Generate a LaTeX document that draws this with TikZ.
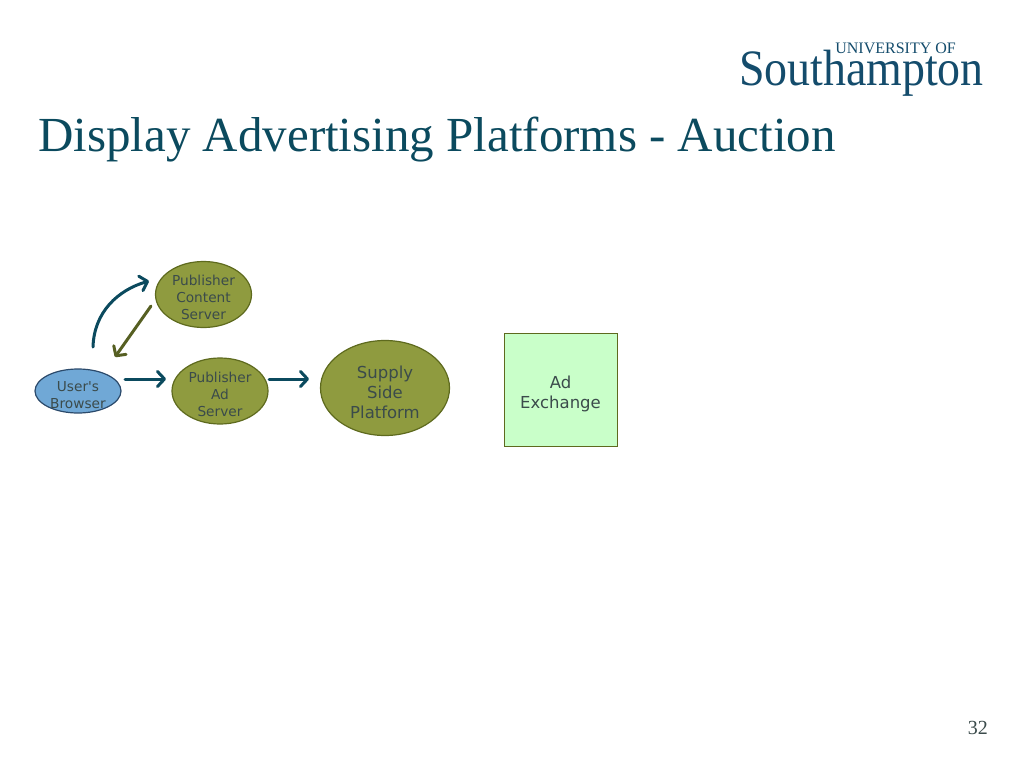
\documentclass[tikz,border=0pt]{standalone}
\usepackage{fontspec}
\setmainfont{Liberation Serif}
\newfontfamily\labelfont{DejaVu Sans}
\newfontfamily\logofont[FakeStretch=0.9]{Liberation Serif}
\usetikzlibrary{shapes.geometric,arrows.meta}
\definecolor{sotonTeal}{HTML}{0B4A5E}
\definecolor{logoBlue}{HTML}{144C6C}
\definecolor{serverOlive}{HTML}{8F9B3F}
\definecolor{serverEdge}{HTML}{5E6A1E}
\definecolor{replyOlive}{HTML}{565F22}
\definecolor{browserBlue}{HTML}{70A8D6}
\definecolor{browserEdge}{HTML}{2B4A6B}
\definecolor{exchangeGreen}{HTML}{C9FFC9}
\definecolor{labelGrey}{HTML}{3B4B4B}
\newcommand{\droptext}[1]{\rule{0pt}{#1}}
\tikzset{
  x=1pt,y=-1pt,
  server/.style={ellipse,draw=serverEdge,fill=serverOlive,line width=1.2pt,inner sep=-12pt,
    align=center,text=labelGrey},
  smalltext/.style={font=\labelfont\fontsize{13.7}{17}\selectfont},
  bigtext/.style={font=\labelfont\fontsize{16.5}{20}\selectfont},
  flow/.style={line width=3pt,line cap=round,color=sotonTeal,
    -{Straight Barb[length=7pt,width=15pt,line width=3pt,round]}},
}
\begin{document}
\begin{tikzpicture}
\useasboundingbox (0,0) rectangle (1024,768);
% slide furniture
\node (title) [anchor=base west,inner sep=0pt,text=sotonTeal,font=\fontsize{49}{52}\selectfont] at (38,151)
  {Display Advertising Platforms - Auction};
\node (logotop) [anchor=base east,inner sep=0pt,text=logoBlue,font=\fontsize{16}{17}\selectfont] at (956,53)
  {UNIVERSITY OF};
\node (logo) [anchor=base east,inner sep=0pt,text=logoBlue,font=\logofont\fontsize{51}{52}\selectfont] at (984,85)
  {Southampton};
\node (pagenum) [anchor=base east,inner sep=0pt,text=labelGrey,font=\fontsize{20}{20}\selectfont] at (988,734)
  {32};
% nodes
\node (browser) [server,smalltext,draw=browserEdge,fill=browserBlue,minimum width=86pt,minimum height=44pt] at (78,391)
  {\droptext{18pt}User's\\Browser};
\node (content) [server,smalltext,minimum width=96pt,minimum height=66pt] at (203.5,294.5)
  {\droptext{16pt}Publisher\\Content\\Server};
\node (adserver) [server,smalltext,minimum width=96pt,minimum height=66pt] at (220,391)
  {\droptext{18pt}Publisher\\Ad\\Server};
\node (ssp) [server,bigtext,minimum width=129pt,minimum height=95pt] at (385,388)
  {\droptext{21pt}Supply\\Side\\Platform};
\node (exchange) [rectangle,draw=serverEdge,fill=exchangeGreen,line width=1pt,inner sep=0pt,align=center,
  text=labelGrey,bigtext,minimum width=113pt,minimum height=113pt] at (560.5,389.5)
  {\droptext{22pt}Ad\\Exchange};
% connector ends
\coordinate (reqStart) at (93,347);
\coordinate (reqEnd) at (149,281);
\coordinate (replyStart) at (151,306);
\coordinate (replyEnd) at (115,357);
\coordinate (callStart) at (125,379);
\coordinate (callEnd) at (166,379);
\coordinate (bidStart) at (269,379);
\coordinate (bidEnd) at (309,379);
% connectors
\draw[flow] (reqStart) .. controls (94,312) and (118,290) .. (reqEnd);
\draw[flow,color=replyOlive] (replyStart) -- (replyEnd);
\draw[flow] (callStart) -- (callEnd);
\draw[flow] (bidStart) -- (bidEnd);
\end{tikzpicture}
\end{document}
